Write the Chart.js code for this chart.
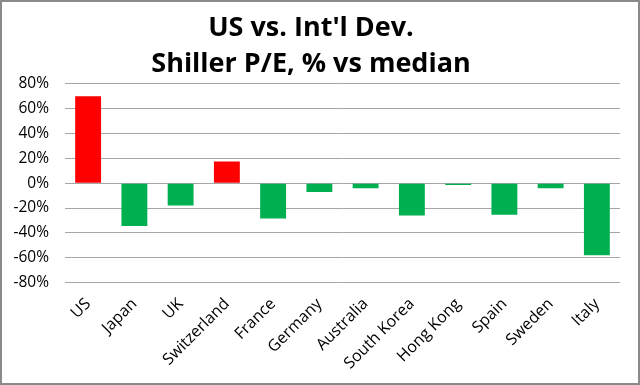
<!DOCTYPE html>
<html>
<head>
<meta charset="utf-8">
<script src="https://cdn.jsdelivr.net/npm/chart.js@4"></script>
<style>
  html, body { margin: 0; padding: 0; background: #fff; }
  #wrap {
    width: 640px; height: 385px; box-sizing: border-box;
    border: 2px solid #8a8a8a; background: #fff;
  }
</style>
</head>
<body>
<div id="wrap"><canvas id="chart" width="636" height="381"></canvas></div>
<script>
const countries = ['US', 'Japan', 'UK', 'Switzerland', 'France', 'Germany', 'Australia',
    'South Korea', 'Hong Kong', 'Spain', 'Sweden', 'Italy'];
const pctVsMedian = [70, -34.5, -18, 17.5, -28.5, -7, -4, -26, -1.5, -25.5, -4, -58];
const titleLines = ['US vs. Int\'l Dev.', 'Shiller P/E, % vs median'];

const RED = '#ff0000';
const GREEN = '#00b050';

const ctx = document.getElementById('chart').getContext('2d');
new Chart(ctx, {
    type: 'bar',
    data: {
        labels: countries,
        datasets: [{
            data: pctVsMedian,
            backgroundColor: pctVsMedian.map((v) => (v > 0 ? RED : GREEN)),
            borderWidth: 0,
            barPercentage: 0.56,
            categoryPercentage: 1
        }]
    },
    options: {
        responsive: false,
        animation: false,
        layout: { padding: { left: 0, right: 18, top: 4, bottom: 6 } },
        plugins: {
            legend: { display: false },
            tooltip: { enabled: false },
            title: {
                display: true,
                text: titleLines,
                color: '#000',
                font: { family: 'Open Sans', size: 27, weight: 'bold', lineHeight: 1.33 },
                padding: { top: 4, bottom: 2 }
            }
        },
        scales: {
            x: {
                grid: { display: false },
                border: { display: false },
                ticks: {
                    color: '#000',
                    font: { family: 'Open Sans', size: 16 },
                    maxRotation: 45,
                    minRotation: 45,
                    padding: 4
                }
            },
            y: {
                min: -80,
                max: 80,
                border: { display: false },
                grid: { color: '#a6a6a6', lineWidth: 1, drawTicks: false },
                afterFit: (scale) => { scale.width = 63; },
                ticks: {
                    stepSize: 20,
                    color: '#000',
                    padding: 16,
                    font: { family: 'Open Sans', size: 15.5 },
                    callback: (v) => v + '%'
                }
            }
        }
    }
});
</script>
</body>
</html>
